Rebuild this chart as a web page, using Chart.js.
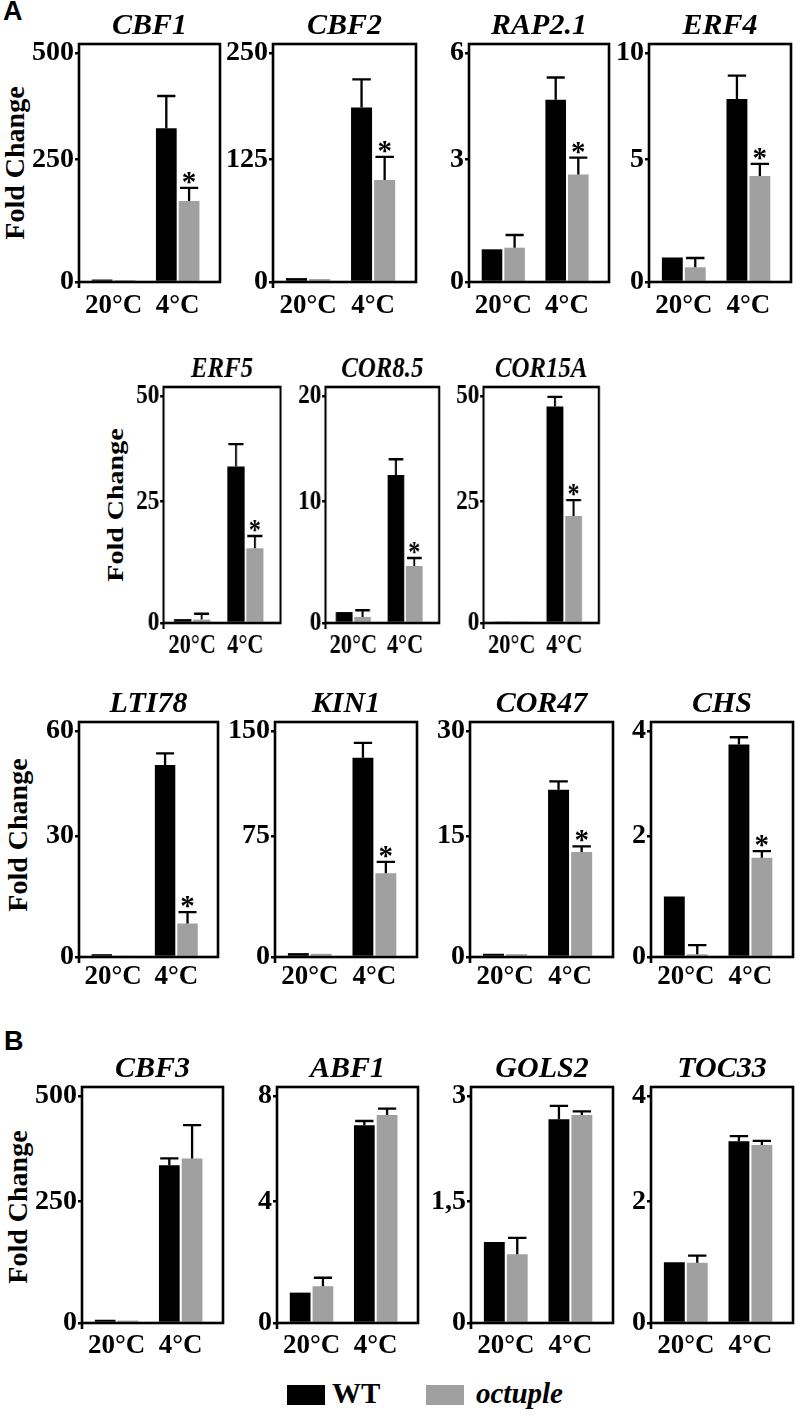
<!DOCTYPE html>
<html>
<head>
<meta charset="utf-8">
<script src="https://cdn.jsdelivr.net/npm/chart.js@4"></script>
<style>
  body { margin: 0; background: #fff; }
  #page { position: relative; width: 796px; height: 1419px; overflow: hidden; background: #fff; }
  .panel { position: absolute; transform-origin: 0 0; }
  .lbl { position: absolute; font-family: 'Liberation Serif', 'Times New Roman', serif; font-weight: bold; color: #000; white-space: nowrap; }
  .fold { font-size: 28px; transform: translate(-50%, -50%) rotate(-90deg); }
  .fold.narrow { transform: translate(-50%, -50%) scaleX(0.84) rotate(-90deg); }
  .letter { font-family: 'Liberation Sans', Arial, sans-serif; font-size: 27px; }
  .sw { position: absolute; width: 38px; height: 20px; }
</style>
</head>
<body>
<div id="page">
  <div class="lbl letter" style="left:3px; top:-4px;">A</div>
  <div class="lbl letter" style="left:4px; top:1026px;">B</div>
  <div class="lbl fold" style="left:15px; top:163px;">Fold Change</div>
  <div class="lbl fold narrow" style="left:115px; top:505px;">Fold Change</div>
  <div class="lbl fold" style="left:18px; top:835px;">Fold Change</div>
  <div class="lbl fold" style="left:18px; top:1207px;">Fold Change</div>
  <div class="sw" style="left:287px; top:1385px; background:#000;"></div>
  <div class="lbl" style="left:332px; top:1377px; font-size:29px;">WT</div>
  <div class="sw" style="left:426px; top:1385px; background:#a0a0a0;"></div>
  <div class="lbl" style="left:476px; top:1377px; font-size:29px; font-style:italic;">octuple</div>
</div>
<script>
// Data, one entry per gene: [20°C, 4°C]
const genes = ['CBF1', 'CBF2', 'RAP2.1', 'ERF4', 'ERF5', 'COR8.5', 'COR15A',
  'LTI78', 'KIN1', 'COR47', 'CHS', 'CBF3', 'ABF1', 'GOLS2', 'TOC33'];
const temps = ['20°C', '4°C'];
const wtMean = [[5, 323], [4, 186], [0.8, 4.68], [1, 7.84], [0.8, 33.3], [0.9, 12.5], [0.3, 47.5],
  [0.7, 50.3], [2.4, 130.9], [0.4, 21.6], [1, 3.74], [6.7, 336], [1, 6.89], [1, 2.67], [1, 3.14]];
const wtErr = [[0, 76], [0, 33], [0, 0.63], [0, 1.1], [0, 5.3], [0, 1.5], [0, 2.3],
  [0, 3.3], [0, 10.6], [0, 1.2], [0, 0.14], [0, 16], [0, 0.16], [0, 0.19], [0, 0.1]];
const octMean = [[4, 165], [3, 104], [0.84, 2.63], [0.6, 4.32], [0.7, 15.4], [0.5, 4.7], [0.2, 22],
  [0.1, 8.3], [2, 51.9], [0.35, 13], [0.045, 1.64], [5, 352], [1.21, 7.28], [0.85, 2.73], [0.99, 3.07]];
const octErr = [[0, 27], [0, 24], [0.31, 0.42], [0.38, 0.5], [1.2, 2.5], [0.55, 0.65], [0, 3.3],
  [0, 2.8], [0, 7], [0, 0.7], [0.15, 0.11], [0, 79], [0.28, 0.24], [0.2, 0.05], [0.12, 0.08]];
const yMid = [250, 125, 3, 5, 25, 10, 25, 30, 75, 15, 2, 250, 4, 1.5, 2];
const yTop = [500, 250, 6, 10, 50, 20, 50, 60, 150, 30, 4, 500, 8, 3, 4];
const starred = [1, 1, 1, 1, 1, 1, 1, 1, 1, 1, 1, 0, 0, 0, 0];

// Layout
const FONT = "'Liberation Serif', 'Times New Roman', serif";
const black = '#000000';
const gray = '#a0a0a0';
// sx: the middle row of the figure is squeezed sideways
const rows = [
  { top: 44, bottom: 282, xpad: 8, sx: 1 },
  { top: 387, bottom: 623, xpad: 7, sx: 0.83 },
  { top: 722, bottom: 957, xpad: 3.5, sx: 1 },
  { top: 1087, bottom: 1323, xpad: 6.5, sx: 1 }
];
// [left, right, row] of each plot box
const boxes = [
  [79, 220, 0], [273, 416, 0], [469, 609, 0], [649, 791, 0],
  [163, 280, 1], [325, 439, 1], [483, 598, 1],
  [79, 218, 2], [275, 417, 2], [470, 613, 2], [651, 793, 2],
  [82, 223, 3], [277, 418, 3], [471, 613, 3], [651, 793, 3]
];
const YW = 56, TH = 38, XH = 44, RP = 4;
// the axes of the figure put the middle tick lower than half way
const LOW = 0.515, HIGH = 0.962;
// group centres across the box
const CENTERS = [0.245, 0.70];

class SplitScale extends Chart.LinearScale {
  static id = 'split';
  static defaults = Chart.LinearScale.defaults;
  getPixelForValue(value) {
    if (value === null || value === undefined) return NaN;
    const mid = this.options.mid, top = this.max;
    const dec = value <= mid ? LOW * value / mid
      : LOW + (HIGH - LOW) * (value - mid) / (top - mid);
    return this.getPixelForDecimal(dec);
  }
  getValueForPixel(pixel) {
    const mid = this.options.mid, top = this.max;
    const dec = this.getDecimalForPixel(pixel);
    return dec <= LOW ? dec / LOW * mid : mid + (dec - LOW) / (HIGH - LOW) * (top - mid);
  }
}

class GroupScale extends Chart.CategoryScale {
  static id = 'group';
  static defaults = Chart.CategoryScale.defaults;
  getPixelForValue(value) {
    const v = typeof value === 'number' ? value : this.parse(value);
    if (v === null || v === undefined || isNaN(v)) return NaN;
    return this.getPixelForDecimal(CENTERS[v]);
  }
}
Chart.register(SplitScale, GroupScale);

const decor = {
  id: 'decor',
  afterDatasetsDraw(chart) {
    const { ctx, chartArea: a, scales: { y } } = chart;
    ctx.save();
    ctx.strokeStyle = black;
    ctx.fillStyle = black;
    ctx.lineWidth = 2.3;
    chart.data.datasets.forEach((ds, di) => {
      chart.getDatasetMeta(di).data.forEach((bar, i) => {
        const e = ds.errors[i];
        if (!e) return;
        const top = y.getPixelForValue(ds.data[i] + e);
        const half = bar.width * 0.44;
        ctx.beginPath();
        ctx.moveTo(bar.x, bar.y);
        ctx.lineTo(bar.x, top);
        ctx.moveTo(bar.x - half, top);
        ctx.lineTo(bar.x + half, top);
        ctx.stroke();
        if (ds.star && i === 1) {
          ctx.font = 'bold 29px ' + FONT;
          ctx.textAlign = 'center';
          ctx.textBaseline = 'alphabetic';
          ctx.fillText('*', bar.x, top - 12 + 15);
        }
      });
    });
    ctx.lineWidth = 2.6;
    ctx.strokeRect(a.left, a.top, a.width, a.height);
    ctx.beginPath();
    ctx.moveTo(a.left, a.bottom);
    ctx.lineTo(a.left, a.bottom + 6);
    ctx.stroke();
    ctx.restore();
  }
};

const page = document.getElementById('page');

genes.forEach((gene, g) => {
  const [left, right, r] = boxes[g];
  const row = rows[r];
  const w = Math.round(YW + (right - left) / row.sx + RP);
  const h = TH + (row.bottom - row.top) + XH;
  const div = document.createElement('div');
  div.className = 'panel';
  div.style.left = (left - YW * row.sx) + 'px';
  div.style.top = (row.top - TH) + 'px';
  if (row.sx !== 1) div.style.transform = 'scaleX(' + row.sx + ')';
  const canvas = document.createElement('canvas');
  canvas.width = w;
  canvas.height = h;
  canvas.style.width = w + 'px';
  canvas.style.height = h + 'px';
  div.appendChild(canvas);
  page.appendChild(div);

  new Chart(canvas.getContext('2d'), {
    type: 'bar',
    data: {
      labels: temps,
      datasets: [
        { label: 'WT', data: wtMean[g], errors: wtErr[g], backgroundColor: black,
          barPercentage: 0.91, categoryPercentage: 0.71 },
        { label: 'octuple', data: octMean[g], errors: octErr[g], star: !!starred[g],
          backgroundColor: gray, barPercentage: 0.91, categoryPercentage: 0.71 }
      ]
    },
    options: {
      responsive: false,
      animation: false,
      devicePixelRatio: 1,
      layout: { padding: { left: 0, right: RP, top: 0, bottom: 0 } },
      plugins: {
        legend: { display: false },
        tooltip: { enabled: false },
        title: {
          display: true,
          text: gene,
          fullSize: false,
          color: black,
          font: { family: FONT, size: 30, weight: 'bold', style: 'italic', lineHeight: 1.1 },
          padding: { top: 4.2, bottom: 0.8 }
        }
      },
      scales: {
        x: {
          type: 'group',
          offset: true,
          grid: { display: false, drawTicks: false },
          border: { display: false },
          ticks: {
            color: black,
            padding: row.xpad,
            maxRotation: 0,
            autoSkip: false,
            font: { family: FONT, size: 27, weight: 'bold' }
          },
          afterFit: scale => { scale.height = XH; }
        },
        y: {
          type: 'split',
          mid: yMid[g],
          min: 0,
          max: yTop[g],
          grid: {
            drawOnChartArea: false,
            drawTicks: true,
            tickLength: 4,
            color: black,
            lineWidth: 2.5
          },
          border: { display: false },
          ticks: {
            stepSize: yMid[g],
            color: black,
            padding: 1,
            font: { family: FONT, size: 28, weight: 'bold' },
            callback: v => String(v).replace('.', ',')
          },
          afterFit: scale => { scale.width = YW; }
        }
      }
    },
    plugins: [decor]
  });
});
</script>
</body>
</html>
